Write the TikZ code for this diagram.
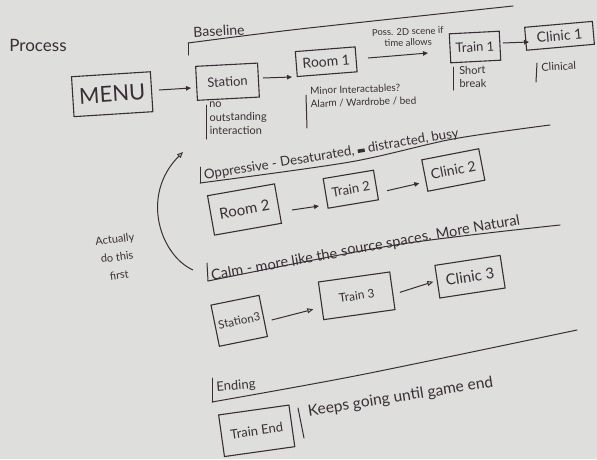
\documentclass[tikz,border=0pt]{standalone}
\usepackage{fontspec}
\setmainfont{Lato}
\usetikzlibrary{arrows.meta,calc}
\definecolor{paper}{RGB}{222,223,221}
\definecolor{ink}{RGB}{58,46,54}
\begin{document}
\begin{tikzpicture}[x=1pt,y=-1pt,
  box/.style={draw=ink, line width=1.1pt, inner sep=0pt, text=ink},
  lbl/.style={text=ink, inner sep=0pt},
  ln/.style={draw=ink, line width=1pt, line cap=round, line join=round},
  arr/.style={draw=ink, line width=1pt, -{Triangle[length=5pt,width=4.5pt]}},
  oarr/.style={draw=ink, line width=1pt, -{Triangle[open,length=6pt,width=5pt]}},
]
\fill[paper] (0,0) rectangle (597,459);
\useasboundingbox (0,0) rectangle (597,459);

% titles
\node[lbl, font=\fontsize{17}{19}\selectfont] (process) at (38,45) {Process};
\node[lbl, font=\fontsize{14}{16}\selectfont, rotate=3] (baseline) at (219,31) {Baseline};

% boxes
\node[box, minimum width=79pt, minimum height=40pt, rotate=3.6, font=\fontsize{22}{24}\selectfont] (menu) at (112.2,94.2) {MENU};
\node[box, minimum width=62pt, minimum height=34pt, rotate=3, font=\fontsize{13}{15}\selectfont] (station) at (227.5,81.7) {Station};
\node[box, minimum width=60pt, minimum height=25pt, rotate=4.5, font=\fontsize{14}{16}\selectfont] (room1) at (326.2,61.7) {Room 1};
\node[box, minimum width=50pt, minimum height=29pt, rotate=3, font=\fontsize{13}{15}\selectfont] (train1) at (475,47) {Train 1};
\node[box, minimum width=68pt, minimum height=23pt, rotate=5, font=\fontsize{14}{16}\selectfont] (clinic1) at (559.5,35.8) {Clinic 1};

\node[box, minimum width=68pt, minimum height=40pt, rotate=10, font=\fontsize{15}{17}\selectfont] (room2) at (244.5,209.5) {Room 2};
\node[box, minimum width=51pt, minimum height=30pt, rotate=9.5, font=\fontsize{13}{15}\selectfont] (train2) at (350.8,189.2) {Train 2};
\node[box, minimum width=58pt, minimum height=32pt, rotate=11, font=\fontsize{14}{16}\selectfont] (clinic2) at (453.3,170) {Clinic 2};

\node[box, minimum width=49pt, minimum height=42pt, rotate=11.5, font=\fontsize{11.5}{13}\selectfont] (station3) at (239.2,320.8) {Station3};
\node[box, minimum width=72pt, minimum height=38pt, rotate=8, font=\fontsize{12}{14}\selectfont] (train3) at (356.7,295.8) {Train 3};
\node[box, minimum width=66pt, minimum height=33pt, rotate=8.7, font=\fontsize{15}{17}\selectfont] (clinic3) at (470,276.7) {Clinic 3};

\node[box, minimum width=71pt, minimum height=42pt, rotate=8, font=\fontsize{13}{15}\selectfont] (trainend) at (256.7,430.8) {Train End};

% notes
\node[lbl, anchor=north west, align=left, rotate=1, font=\fontsize{11}{13.5}\selectfont] (stnote) at (209,102) {no\\outstanding\\interaction};
\node[lbl, anchor=north west, align=left, rotate=2, font=\fontsize{10}{13}\selectfont] (r1note) at (310,87) {Minor Interactables?\\Alarm / Wardrobe / bed};
\node[lbl, align=center, rotate=2, font=\fontsize{9.5}{11}\selectfont] (poss) at (408,37) {Poss. 2D scene if\\time allows};
\node[lbl, anchor=north west, align=left, rotate=1, font=\fontsize{11}{13.5}\selectfont] (t1note) at (459,66) {Short\\break};
\node[lbl, anchor=north west, rotate=3, font=\fontsize{11}{13}\selectfont] (c1note) at (541,63) {Clinical};

\node[lbl, anchor=west, rotate=9.5, font=\fontsize{13.3}{15}\selectfont] (oppr) at (204,176) {Oppressive - Desaturated, \rule[1pt]{7pt}{3.5pt} distracted, busy};
\node[lbl, anchor=west, rotate=10, font=\fontsize{14.5}{16}\selectfont] (calm) at (211,275) {Calm - more like the};
\node[lbl, anchor=west, rotate=10, font=\fontsize{14.5}{16}\selectfont] (calmb) at ($(calm.east)+(3.84,-0.68)$) {source spaces. More Natural};
\node[lbl, align=center, rotate=7, font=\fontsize{11}{18}\selectfont] (actually) at (117,257) {Actually\\do this\\first};
\node[lbl, rotate=5, font=\fontsize{13}{15}\selectfont] (ending) at (236,386) {Ending};
\node[lbl, anchor=west, rotate=9, font=\fontsize{15.5}{17}\selectfont] (keeps) at (308,412) {Keeps going until game end};

% section lines
\draw[ln] (188,55) -- (188,43);
\draw[ln] plot[smooth, tension=0.5] coordinates {(188,43) (300,29) (513,6)};
\draw[ln] (200,167) -- (200,183);
\draw[ln] plot[smooth, tension=0.5] coordinates {(200,183) (350,162) (453,139) (550,125)};
\draw[ln] (207,263) -- (208,281);
\draw[ln] plot[smooth, tension=0.5] coordinates {(208,281) (395,245) (560,225)};
\draw[ln] (212,378) -- (212,402);
\draw[ln] plot[smooth, tension=0.5] coordinates {(212,402) (360,375) (577,330)};

% note bars
\draw[ln] (206,105) -- (206,139);
\draw[ln] (306,95) -- (307,128);
\draw[ln] (453,67) -- (453,90);
\draw[ln] (537,63) -- (536,82);
\draw[ln] (298,408) -- (304,438);

% connectors
\draw[arr] ($(menu)+(46.8,-4.2)$) -- ($(station)+(-36.5,6.3)$);
\draw[arr] ($(station)+(35.5,-3.7)$) -- ($(room1)+(-34.2,15.3)$);
\draw[arr] ($(room1)+(41.8,-3.7)$) -- ($(train1)+(-47,6)$);
\draw[arr] ($(train1)+(28,-4)$) -- ($(clinic1)+(-30.5,6.2)$);
\draw[arr] ($(room2)+(47.5,0.5)$) -- ($(train2)+(-31.8,16.8)$);
\draw[arr] ($(train2)+(36.2,1.5)$) -- ($(clinic2)+(-34,13.3)$);
\draw[oarr] ($(station3)+(32.5,-0.8)$) -- ($(train3)+(-43.4,13.5)$);
\draw[oarr] ($(train3)+(43.3,-3.5)$) -- ($(clinic3)+(-36.7,5)$);

% curved arrow
\coordinate (cs) at (193,270);
\coordinate (ce) at (183,152);
\draw[oarr] (cs) .. controls (160,255) and (140,195) .. (ce);
\end{tikzpicture}
\end{document}
